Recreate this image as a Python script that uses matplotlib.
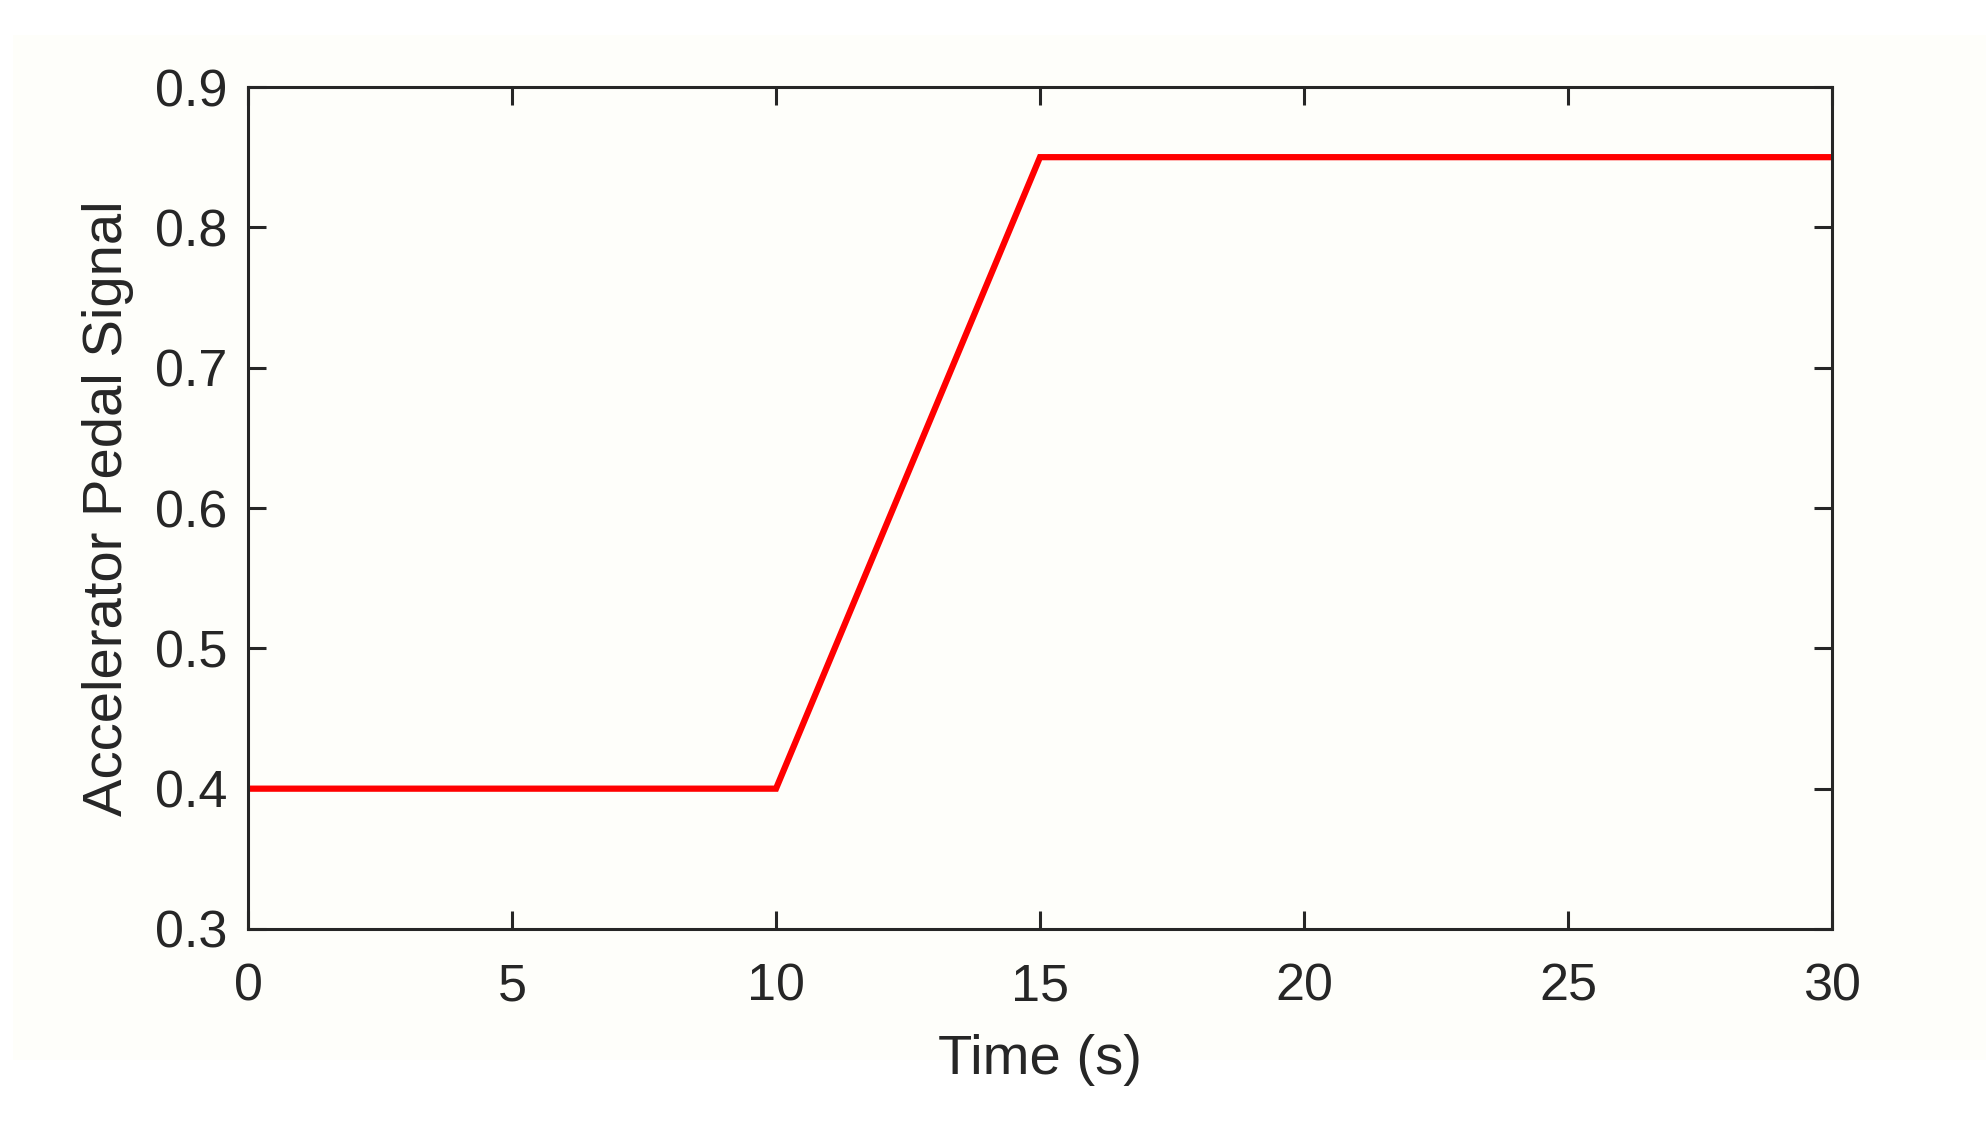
import matplotlib
matplotlib.use("Agg")
import matplotlib.pyplot as plt
from matplotlib.patches import Rectangle

# data
time_s = [0, 10, 15, 30]
pedal_signal = [0.4, 0.4, 0.85, 0.85]
x_ticks = [0, 5, 10, 15, 20, 25, 30]
y_ticks = [0.3, 0.4, 0.5, 0.6, 0.7, 0.8, 0.9]

bg = "#fefefa"
ink = "#262626"

plt.rcParams["font.family"] = ["Liberation Sans", "DejaVu Sans"]

W, H = 1986, 1135
fig = plt.figure(figsize=(W / 100, H / 100), dpi=100, facecolor="white")
# off-white figure area (white margin on top, left and bottom)
fig.patches.append(Rectangle((13 / W, 75 / H), 1 - 13 / W, (1060 - 35) / H,
                             transform=fig.transFigure, facecolor=bg,
                             edgecolor="none", zorder=-10))

ax = fig.add_axes([248 / W, 1 - 929 / H, (1832 - 248) / W, (929 - 87) / H])
ax.set_facecolor(bg)

ax.plot(time_s, pedal_signal, color="#ff0000", linewidth=4.5, solid_joinstyle="miter")

ax.set_xlim(0, 30)
ax.set_ylim(0.3, 0.9)
ax.set_xticks(x_ticks)
ax.set_yticks(y_ticks)
ax.set_xticklabels([str(t) for t in x_ticks])
ax.set_yticklabels([f"{t:.1f}" for t in y_ticks])

ax.tick_params(direction="in", length=13, width=2.2, colors=ink,
               labelsize=37.5, top=True, right=True)
ax.tick_params(axis="x", pad=24)
ax.tick_params(axis="y", pad=15)
for sp in ax.spines.values():
    sp.set_linewidth(2.2)
    sp.set_color(ink)

ax.set_xlabel("Time (s)", fontsize=40.5, color=ink)
ax.set_ylabel("Accelerator Pedal Signal", fontsize=40.5, color=ink)
ax.xaxis.set_label_coords(0.5, -(1060 - 929) / (929 - 87), transform=ax.transAxes)
ax.yaxis.set_label_coords(-(248 - 108) / (1832 - 248), 0.5, transform=ax.transAxes)
ax.xaxis.label.set_va("center")
ax.yaxis.label.set_va("center")

fig.savefig("out.png", dpi=100, facecolor=fig.get_facecolor())
